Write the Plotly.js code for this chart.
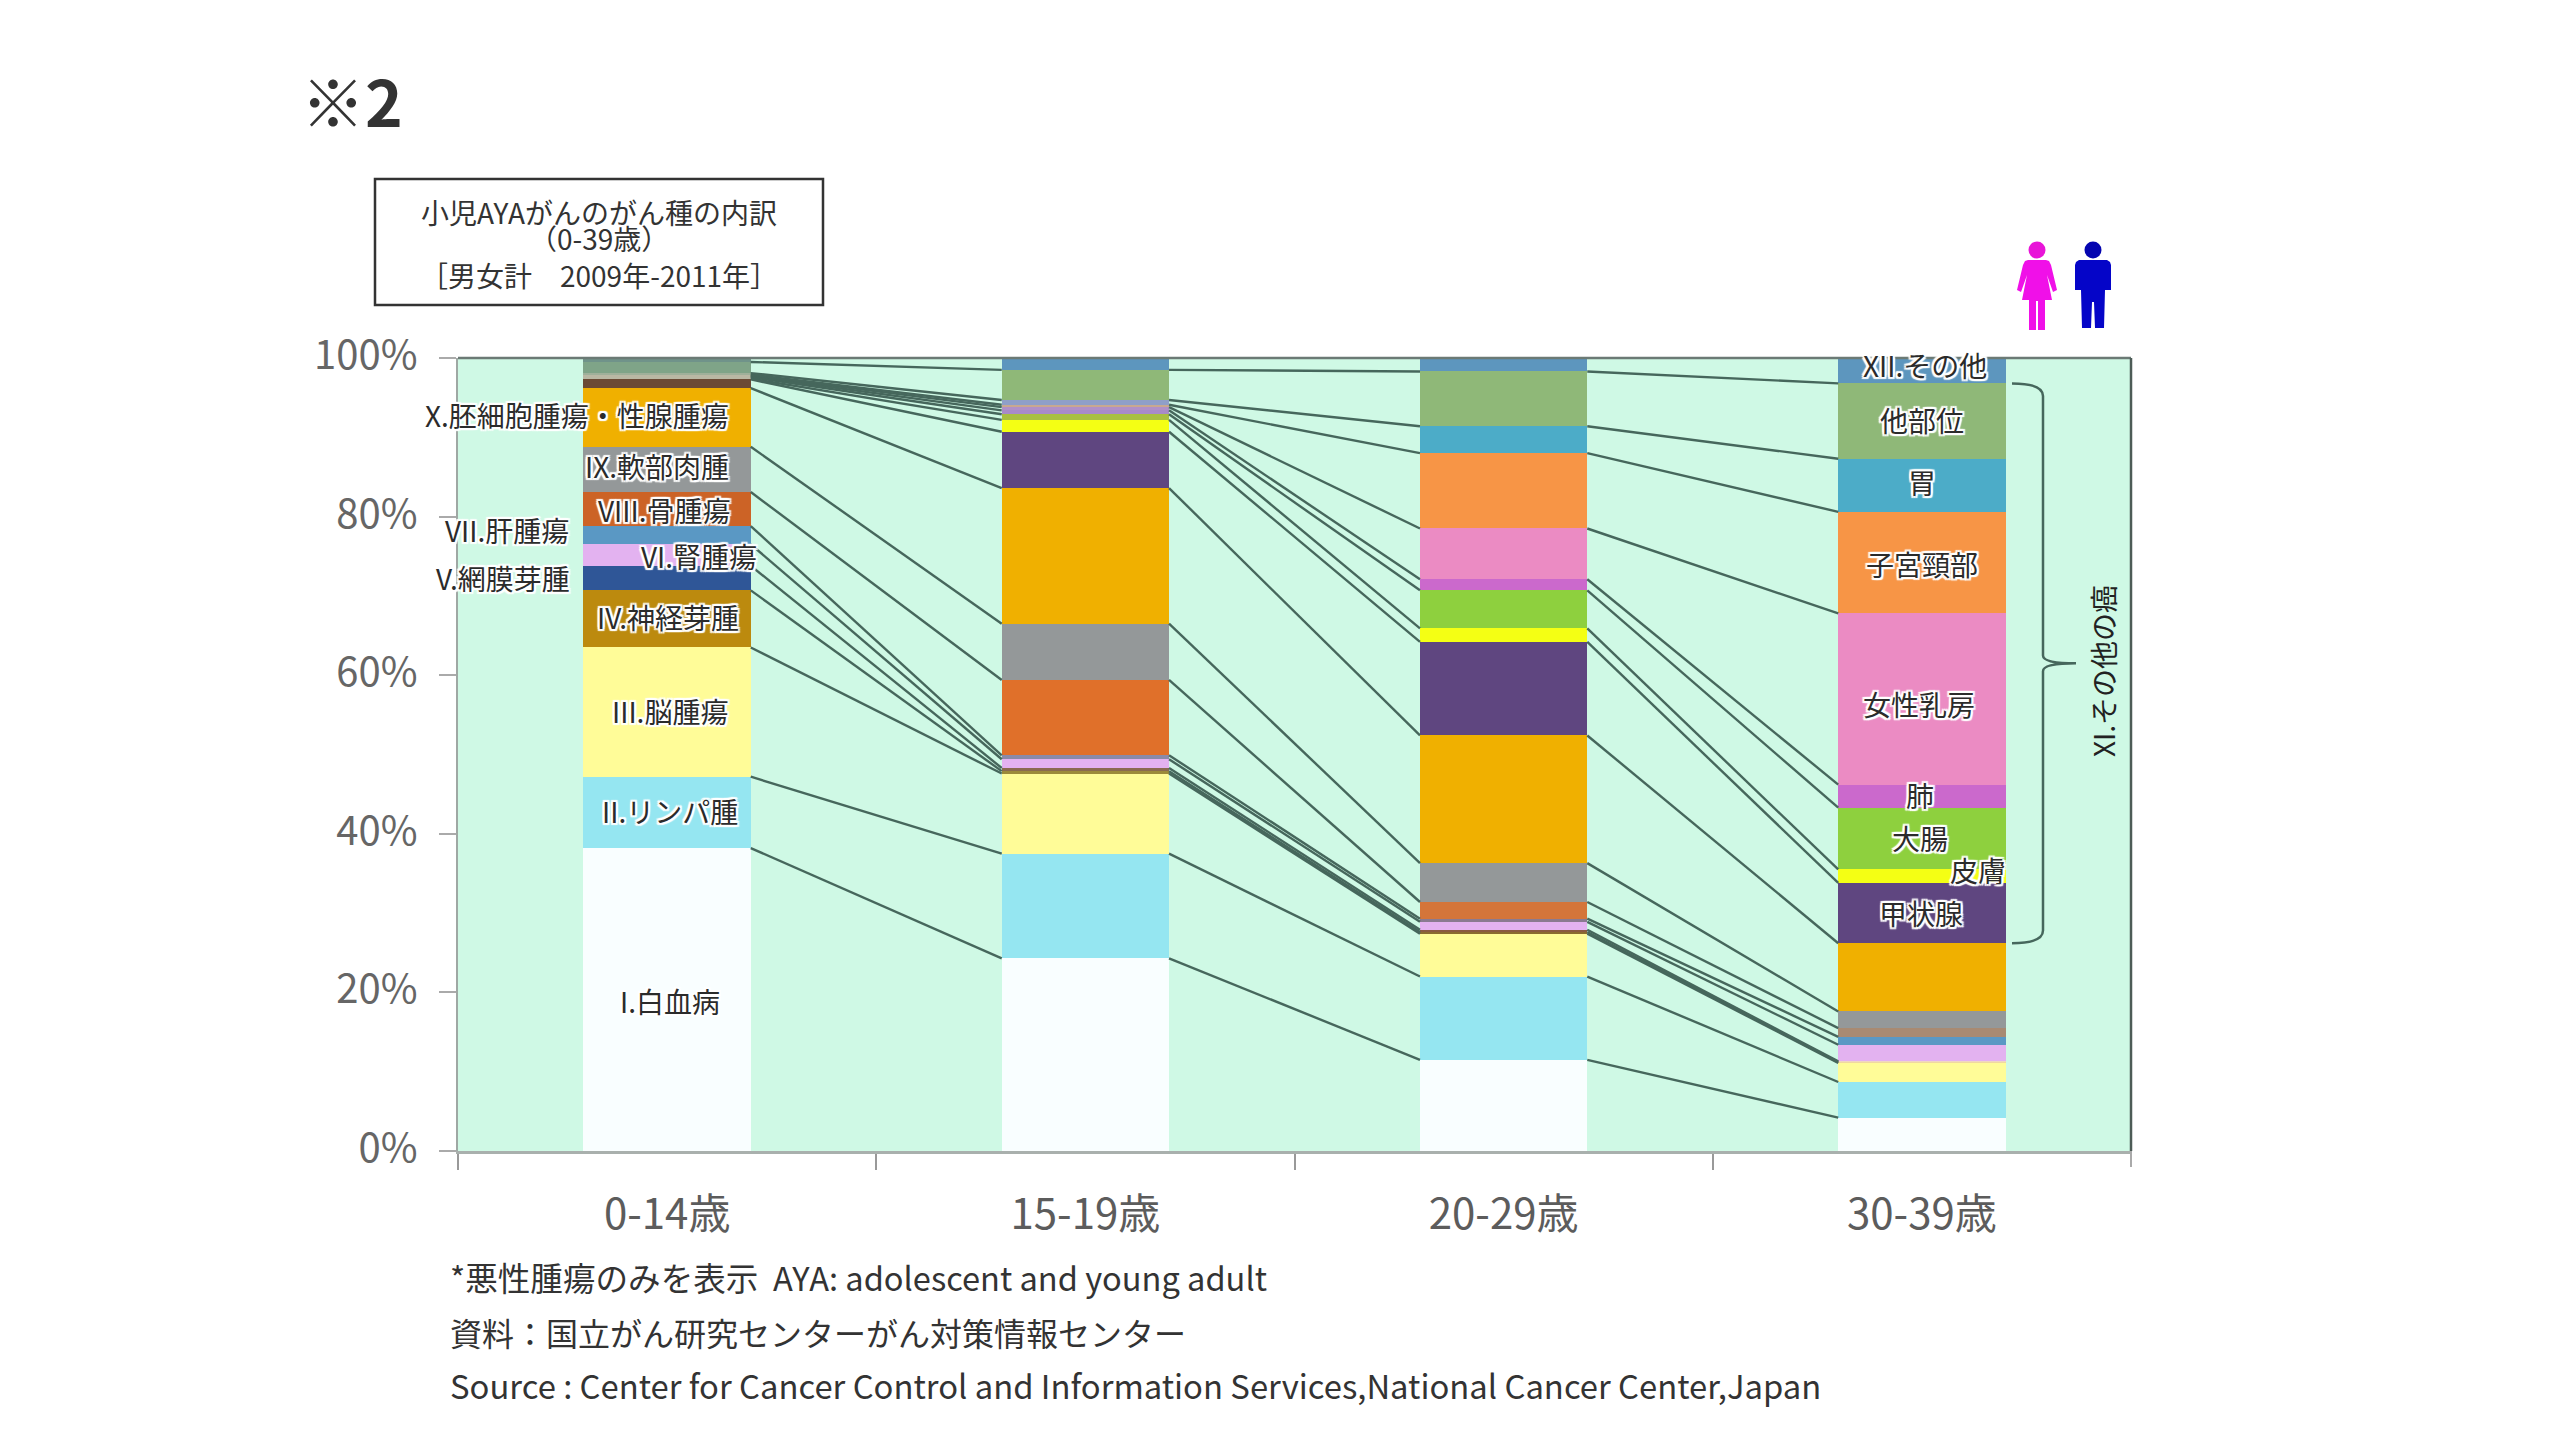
<!DOCTYPE html>
<html><head><meta charset="utf-8">
<script src="https://cdn.plot.ly/plotly-3.0.1.min.js"></script>
<style>html,body{margin:0;padding:0;background:#fff}#chart{width:2560px;height:1442px}</style>
</head><body><div id="chart"></div>
<script>
const ageGroups = ['0-14歳','15-19歳','20-29歳','30-39歳'];
const yTicks = [0,20,40,60,80,100];
const seriesNames = ['I.白血病','II.リンパ腫','III.脳腫瘍','IV.神経芽腫','V.網膜芽腫','VI.腎腫瘍','VII.肝腫瘍','VIII.骨腫瘍','IX.軟部肉腫','X.胚細胞腫瘍・性腺腫瘍','甲状腺','皮膚','大腸','肺','女性乳房','子宮頸部','胃','他部位','XII.その他'];
const leukemia   = [38.2,24.3,11.5,4.2];
const lymphoma   = [9.0,13.2,10.5,4.5];
const brain      = [16.3,10.1,5.4,2.4];
const neuroblast = [7.2,0.3,0.2,0.1];
const retino     = [3.1,0.4,0.3,0.1];
const renal      = [2.7,1.1,1.0,2.1];
const hepatic    = [2.3,0.5,0.4,1.0];
const bone       = [4.3,9.5,2.1,1.1];
const softTissue = [5.7,7.1,4.9,2.1];
const germCell   = [7.4,17.1,16.1,8.6];
const thyroid    = [1.1,7.1,11.8,7.6];
const skin       = [0.1,1.5,1.7,1.7];
const colon      = [0.2,0.7,4.8,7.8];
const lung       = [0.1,0.5,1.4,2.9];
const breast     = [0.1,0.4,6.4,21.6];
const cervix     = [0.1,0.3,9.5,12.8];
const stomach    = [0.2,0.6,3.4,6.7];
const otherSites = [1.4,3.8,6.9,9.5];
const others     = [0.5,1.5,1.7,3.2];
const allSeries = [leukemia,lymphoma,brain,neuroblast,retino,renal,hepatic,bone,softTissue,germCell,thyroid,skin,colon,lung,breast,cervix,stomach,otherSites,others];
const colors = ['#F9FEFF','#95E6F1','#FFFC98',
  ['#BC8A0E','#9C8A3A','#8A6A30','#F0D8A0'],
  ['#2F5697','#8A6A50','#8A5A40','#F0D8C0'],
  '#E3B2F0',
  ['#5A98C4','#8A8AA8','#8A7A90','#5A98C4'],
  ['#CC6326','#E0702A','#D4753A','#A88A72'],
  '#949899','#F0B000',
  ['#6B4A35','#5F4680','#5F4680','#5F4680'],
  '#F4FF14',
  ['#B9B8A4','#A8C040','#8ED03E','#8ED03E'],
  ['#B9B8A4','#A88BC8','#CB69CC','#CB69CC'],
  ['#B9B8A4','#B090C8','#EB8BC3','#EB8BC3'],
  ['#B9B8A4','#C8A890','#F79546','#F79546'],
  ['#9FB09A','#8F9FC8','#4CACC8','#4CACC8'],
  ['#7FA488','#8FB878','#8FB878','#8FB878'],
  ['#70938A','#5D96BE','#5D96BE','#5D96BE']];

const L=458,R=2131,T=358,B=1151;
const fx=p=>(p-L)/(R-L), fy=p=>(B-p)/(B-T);
const dx=p=>(p-L)/((R-L)/4)-0.5;
const P=(p,q)=>fx(p)+','+fy(q);

const FONT='"Noto Sans CJK JP","Noto Sans",sans-serif';
const pos=[0,1,2,3];
const halfWidth=0.2;
const traces=allSeries.map((v,i)=>({type:'bar',x:pos,y:v,name:seriesNames[i],width:0.4,
  marker:{color:colors[i],line:{width:0}},hoverinfo:'name+y'}));

let cum=[0,0,0,0];
const cums=[];
allSeries.forEach(v=>{cum=cum.map((c,i)=>c+v[i]);cums.push(cum.slice());});
cums.slice(0,-1).forEach(c=>{
  const xs=[],ys=[];
  for(let i=0;i<3;i++){xs.push(pos[i]+halfWidth,pos[i+1]-halfWidth,null);ys.push(c[i],c[i+1],null);}
  traces.push({type:'scatter',mode:'lines',x:xs,y:ys,showlegend:false,hoverinfo:'skip',
    line:{color:'#46675C',width:2.4}});
});
const shadow='-2px 0 1px #fff,2px 0 1px #fff,0 -2px 1px #fff,0 2px 1px #fff,-2px -2px 1px #fff,2px 2px 1px #fff,-2px 2px 1px #fff,2px -2px 1px #fff';
const label=(t,px,py,extra={})=>Object.assign({xref:'paper',yref:'paper',x:fx(px),y:fy(py-2),text:t,showarrow:false,
  xanchor:'center',yanchor:'middle',font:{family:FONT,size:28,color:'#2b2b2b',shadow:shadow}},extra);
const plain=(t,px,py,size,extra={})=>Object.assign({xref:'paper',yref:'paper',x:fx(px),y:fy(py),text:t,showarrow:false,
  xanchor:'center',yanchor:'middle',font:{family:FONT,size:size,color:'#333'}},extra);

const annotations=[
  label(seriesNames[9],577,417),
  label(seriesNames[8],657,468),
  label(seriesNames[7],664,512),
  label('VII.肝腫瘍',507,532),
  label(seriesNames[5],699,558),
  label(seriesNames[4],503,580),
  label(seriesNames[3],668,619),
  label(seriesNames[2],670,713),
  label(seriesNames[1],670,813),
  label(seriesNames[0],670,1003),
  label(seriesNames[18],1925,367),
  label(seriesNames[17],1922,422),
  label(seriesNames[16],1922,484),
  label(seriesNames[15],1922,566),
  label(seriesNames[14],1919,706),
  label(seriesNames[13],1920,797),
  label(seriesNames[12],1920,840),
  label(seriesNames[11],1978,872),
  label(seriesNames[10],1921,915),
  plain('XI.その他の癌',2103,671,28,{textangle:-90,font:{family:FONT,size:28,color:'#222'}}),
  plain('小児AYAがんのがん種の内訳',599,212,28),
  plain('（0-39歳）',599,238,28),
  plain('［男女計　2009年-2011年］',599,275,28),
  plain('*悪性腫瘍のみを表示  AYA: adolescent and young adult',448,1276,32.6,{xanchor:'left'}),
  plain('資料：国立がん研究センターがん対策情報センター',448,1332,32,{xanchor:'left'}),
  plain('Source : Center for Cancer Control and Information Services,National Cancer Center,Japan',448,1384,32.8,{xanchor:'left'})
];

const top3=cums[17][3], bot3=cums[9][3], mid3=(top3+bot3)/2;
const xa=dx(2012),xv=dx(2043),xt=dx(2076);
const bracePath=`M${xa},${top3} Q${xv},${top3} ${xv},${top3-1.6} L${xv},${mid3+1} Q${xv},${mid3} ${xt},${mid3} Q${xv},${mid3} ${xv},${mid3-1} L${xv},${bot3+1.6} Q${xv},${bot3} ${xa},${bot3}`;

const pathPx=(cx,pts)=>'M'+pts.map(([a,b])=>P(cx+a,b+2)).join(' L')+' Z';
const woman=[[-9,258],[9,258],[12,259],[14,263],[20,288],[16,290],[10,273],[15,298],[8,298],[8,328],[1,328],[1,299],[-1,299],[-1,328],[-8,328],[-8,298],[-15,298],[-10,273],[-16,290],[-20,288],[-14,263],[-12,259]];
const man=[[-14,258],[14,258],[17,260],[18,263],[18,288],[12,288],[11,326],[2,326],[1,300],[-1,300],[-2,326],[-11,326],[-12,288],[-18,288],[-18,263],[-17,260]];
const head=(cx,cy,r,c)=>({type:'circle',xref:'paper',yref:'paper',x0:fx(cx-r),x1:fx(cx+r),y0:fy(cy+r),y1:fy(cy-r),fillcolor:c,line:{width:0}});

const shapes=[
  {type:'rect',xref:'paper',yref:'paper',x0:fx(375),x1:fx(823),y0:fy(305),y1:fy(179),line:{color:'#333',width:2.5},fillcolor:'rgba(0,0,0,0)'},
  {type:'line',xref:'paper',yref:'paper',x0:0,x1:1,y0:1,y1:1,line:{color:'#6b7a75',width:2.5}},
  {type:'line',xref:'paper',yref:'paper',x0:1,x1:1,y0:0,y1:1,line:{color:'#4d5c57',width:2.5}},
  {type:'line',xref:'paper',yref:'paper',x0:1,x1:1,y0:fy(1167),y1:0,line:{color:'#aaa',width:2}},
  {type:'path',xref:'x',yref:'y',path:bracePath,line:{color:'#46675C',width:2.5}},
  {type:'path',xref:'paper',yref:'paper',path:pathPx(2037,woman),fillcolor:'#F010E8',line:{width:0}},
  head(2037,250,8.5,'#E815D8'),
  {type:'path',xref:'paper',yref:'paper',path:pathPx(2093,man),fillcolor:'#0505C8',line:{width:0}},
  head(2093,250,8.5,'#0505B0')
];

const layout={
  width:2560,height:1442,autosize:false,showlegend:false,barmode:'stack',
  paper_bgcolor:'#fff',plot_bgcolor:'#CFF9E5',
  margin:{l:L,r:2560-R,t:T,b:1442-B,pad:0},
  font:{family:FONT},
  title:{text:'<b>※2</b>',x:301/2560,xanchor:'left',y:1-105/1442,yanchor:'middle',xref:'container',yref:'container',
    font:{family:FONT,size:64,color:'#333'}},
  xaxis:{range:[-0.5,3.5],tickvals:pos,ticktext:ageGroups,ticks:'',ticklen:0,showgrid:false,zeroline:false,
    showline:true,linecolor:'#a9b0ad',linewidth:2.5,ticklabelstandoff:25,
    tickfont:{family:FONT,size:42,color:'#5c5c5c'},
    minor:{tickvals:[-0.5,0.5,1.5,2.5],ticks:'outside',ticklen:16,tickcolor:'#999',tickwidth:2,showgrid:false}},
  yaxis:{range:[0,100],tickvals:yTicks,ticktext:yTicks.map(v=>v+'%'),ticks:'outside',ticklen:17,tickcolor:'#aaa',tickwidth:2,
    showgrid:false,zeroline:false,showline:true,linecolor:'#9fa8a4',linewidth:2.5,ticklabelstandoff:13,ticklabelshift:-3,
    tickfont:{family:FONT,size:40,color:'#666'}},
  annotations,shapes
};
Plotly.newPlot('chart',traces,layout,{displayModeBar:false,staticPlot:true});
</script></body></html>
